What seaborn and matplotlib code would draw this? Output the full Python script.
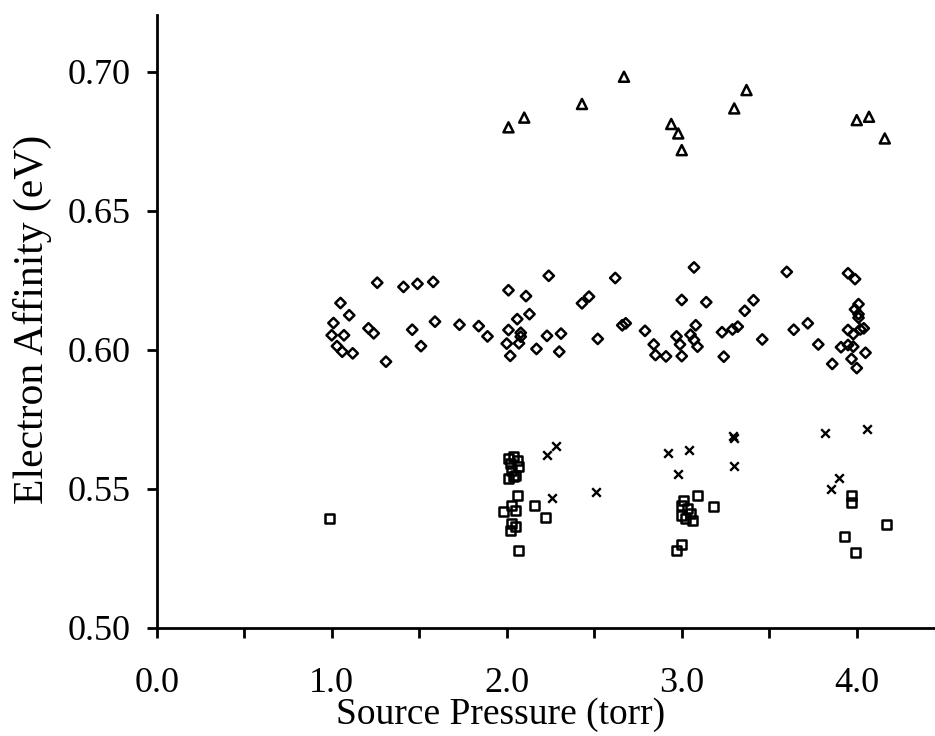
import numpy as np
import pandas as pd
import matplotlib
matplotlib.use("Agg")
import matplotlib.pyplot as plt
from matplotlib.ticker import MultipleLocator, FixedLocator
import seaborn as sns

# Source pressure (torr) and electron affinity (eV) for each measurement series
tri_x = [2.01, 2.10, 2.43, 2.67, 2.94, 2.98, 3.00, 3.37, 3.30, 4.00, 4.07, 4.16]
tri_y = [0.6800, 0.6835, 0.6884, 0.6982, 0.6812, 0.6778, 0.6718, 0.6934, 0.6868,
         0.6826, 0.6838, 0.6760]

dia_x = [1.00, 1.01, 1.03, 1.06, 1.05, 1.07, 1.10, 1.12, 1.21, 1.24, 1.26, 1.31,
         1.41, 1.46, 1.49, 1.51, 1.58, 1.59, 1.73, 1.84, 1.89, 2.01, 2.01, 2.00,
         2.02, 2.06, 2.07, 2.08, 2.08, 2.11, 2.13, 2.17, 2.23, 2.24, 2.31, 2.30,
         2.43, 2.47, 2.52, 2.62, 2.66, 2.68, 2.79, 2.84, 2.85, 2.91, 2.97, 2.99,
         3.00, 3.00, 3.07, 3.05, 3.07, 3.09, 3.08, 3.14, 3.23, 3.24, 3.29, 3.32,
         3.36, 3.41, 3.46, 3.60, 3.64, 3.72, 3.78, 3.86, 3.91, 3.95, 3.99, 4.01,
         3.99, 4.01, 4.01, 3.95, 3.98, 4.02, 4.04, 3.95, 3.98, 3.97, 4.00, 4.05]
dia_y = [0.6052, 0.6096, 0.6013, 0.5993, 0.6168, 0.6052, 0.6124, 0.5987, 0.6077,
         0.6059, 0.6241, 0.5957, 0.6226, 0.6072, 0.6237, 0.6013, 0.6244, 0.6101,
         0.6090, 0.6085, 0.6048, 0.6214, 0.6071, 0.6022, 0.5978, 0.6110, 0.6023,
         0.6061, 0.6047, 0.6193, 0.6128, 0.6003, 0.6050, 0.6266, 0.6058, 0.5993,
         0.6167, 0.6191, 0.6039, 0.6258, 0.6088, 0.6095, 0.6068, 0.6019, 0.5981,
         0.5976, 0.6048, 0.6019, 0.5977, 0.6179, 0.6296, 0.6054, 0.6035, 0.6011,
         0.6088, 0.6171, 0.6063, 0.5975, 0.6073, 0.6083, 0.6140, 0.6178, 0.6037,
         0.6280, 0.6072, 0.6095, 0.6019, 0.5949, 0.6009, 0.6275, 0.6254, 0.6164,
         0.6145, 0.6128, 0.6115, 0.6071, 0.6056, 0.6073, 0.6077, 0.6017, 0.6011,
         0.5967, 0.5934, 0.5989]

crs_x = [2.23, 2.28, 2.26, 2.51, 2.92, 3.04, 2.98, 3.29, 3.30, 3.30, 3.82, 4.06,
         3.90, 3.85]
crs_y = [0.5621, 0.5654, 0.5465, 0.5487, 0.5630, 0.5639, 0.5552, 0.5688, 0.5683,
         0.5582, 0.5699, 0.5715, 0.5537, 0.5499]

sq_x = [0.99, 2.01, 2.04, 2.06, 2.07, 2.02, 2.03, 2.01, 2.04, 2.05, 2.06, 2.03,
        1.98, 2.05, 2.03, 2.05, 2.02, 2.07, 2.16, 2.22, 3.01, 3.00, 3.03, 3.00,
        3.02, 3.06, 3.05, 2.97, 3.00, 3.09, 3.18, 3.97, 3.97, 4.17, 3.93, 3.99]
sq_y = [0.5392, 0.5609, 0.5615, 0.5603, 0.5579, 0.5591, 0.5567, 0.5537, 0.5543,
        0.5549, 0.5477, 0.5441, 0.5417, 0.5423, 0.5376, 0.5363, 0.5351, 0.5279,
        0.5439, 0.5397, 0.5459, 0.5441, 0.5429, 0.5405, 0.5394, 0.5387, 0.5412,
        0.5279, 0.5301, 0.5477, 0.5435, 0.5477, 0.5450, 0.5373, 0.5327, 0.5272]

x_ticks = [0.0, 1.0, 2.0, 3.0, 4.0]
x_ticklabels = ["0.0", "1.0", "2.0", "3.0", "4.0"]
y_ticks = [0.50, 0.55, 0.60, 0.65, 0.70]
y_ticklabels = ["0.50", "0.55", "0.60", "0.65", "0.70"]

sns.set_theme(style="ticks")
plt.rcParams["font.family"] = ["Liberation Serif", "DejaVu Serif"]

fig = plt.figure(figsize=(9.35, 7.36), dpi=100)
ax = fig.add_axes([0.1676, 0.1471, 0.8324, 0.8325])

edge = dict(facecolor="none", edgecolor="black", color="black", linewidth=1.8)

sns.scatterplot(data=pd.DataFrame({"p": tri_x, "ea": tri_y}), x="p", y="ea",
                marker="^", s=52, ax=ax, **edge)
sns.scatterplot(data=pd.DataFrame({"p": dia_x, "ea": dia_y}), x="p", y="ea",
                marker="D", s=28, ax=ax, **edge)
sns.scatterplot(data=pd.DataFrame({"p": sq_x, "ea": sq_y}), x="p", y="ea",
                marker="s", s=42, ax=ax, **edge)
sns.scatterplot(data=pd.DataFrame({"p": crs_x, "ea": crs_y}), x="p", y="ea",
                marker="x", s=38, color="black", linewidth=1.7, ax=ax)

ax.set_xlim(0.0, 4.447)
ax.set_ylim(0.50, 0.7204)

ax.xaxis.set_major_locator(FixedLocator(x_ticks))
ax.set_xticklabels(x_ticklabels)
ax.xaxis.set_minor_locator(MultipleLocator(0.5))
ax.yaxis.set_major_locator(FixedLocator(y_ticks))
ax.set_yticklabels(y_ticklabels)

sns.despine(ax=ax)
for side in ("left", "bottom"):
    ax.spines[side].set_linewidth(2.0)
    ax.spines[side].set_color("black")

ax.tick_params(axis="both", which="both", direction="out", length=7, width=2.0,
               color="black", labelcolor="black")
ax.tick_params(axis="x", which="major", labelsize=26, pad=21)
ax.tick_params(axis="y", which="major", labelsize=26, pad=12)

ax.set_xlabel("Source Pressure (torr)", fontsize=27, color="black")
ax.set_ylabel("Electron Affinity (eV)", fontsize=30, color="black")
ax.xaxis.set_label_coords(0.4424, -0.1425)
ax.xaxis.label.set_va("center")
ax.yaxis.set_label_coords(-0.160, 0.504)
ax.yaxis.label.set_va("center")

fig.savefig("out.png", dpi=100, facecolor="white")
